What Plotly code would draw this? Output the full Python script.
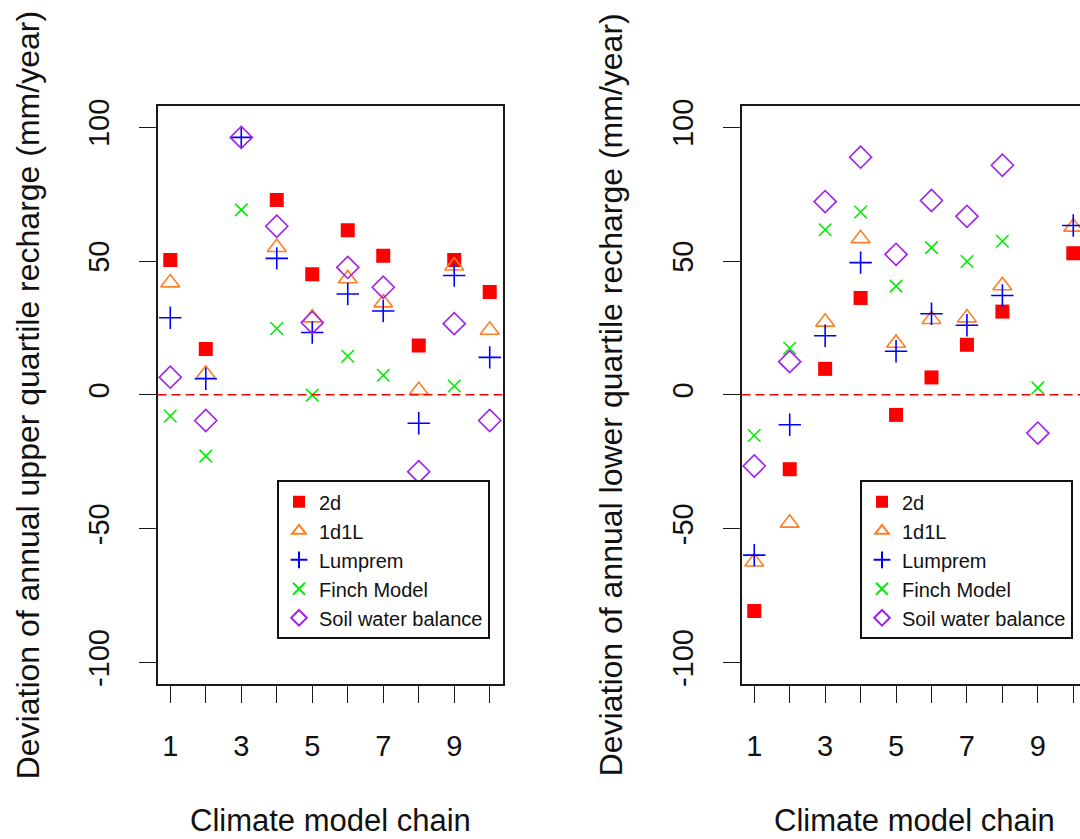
import plotly.graph_objects as go

# ---------------- data ----------------
chains = [1, 2, 3, 4, 5, 6, 7, 8, 9, 10]
x_tick_text = ["1", "", "3", "", "5", "", "7", "", "9", ""]
y_tick_vals = [-100, -50, 0, 50, 100]
y_tick_text = ["-100", "-50", "0", "50", "100"]

models = ["2d", "1d1L", "Lumprem", "Finch Model", "Soil water balance"]

# Upper quartile recharge deviation (left panel)
upper_2d = [50.4, 17.1, None, 72.8, 45.1, 61.5, 52.0, 18.4, 50.4, 38.4]
upper_1d1L = [41.9, 7.8, None, 55.1, 28.8, 43.4, 34.4, 1.7, 48.2, 24.2]
upper_lumprem = [28.8, 6.0, 96.2, 51.0, 23.3, 37.7, 31.3, -10.6, 44.6, 14.0]
upper_finch = [-7.9, -22.9, 69.1, 24.8, -0.1, 14.4, 7.3, None, 3.3, None]
upper_swb = [6.6, -9.6, 96.2, 63.0, 27.0, 47.6, 40.2, -28.7, 26.6, -9.6]

# Lower quartile recharge deviation (right panel)
lower_2d = [-80.8, -27.8, 9.7, 36.2, -7.5, 6.5, 18.7, 31.1, None, 52.9]
lower_1d1L = [-62.4, -47.9, 27.2, 58.4, 19.3, 28.2, 28.8, 40.8, None, 62.7]
lower_lumprem = [-59.9, -11.2, 22.1, 49.4, 16.3, 30.3, 26.0, 37.1, None, 63.3]
lower_finch = [-15.2, 17.4, 61.7, 68.3, 40.6, 55.0, 49.8, 57.4, 2.6, None]
lower_swb = [-26.6, 12.4, 72.2, 88.8, 52.5, 72.6, 66.7, 85.8, -14.3, None]

upper = [upper_2d, upper_1d1L, upper_lumprem, upper_finch, upper_swb]
lower = [lower_2d, lower_1d1L, lower_lumprem, lower_finch, lower_swb]

# ---------------- styles ----------------
colors = ["#FF0000", "#FF7F24", "#0000FF", "#00EE00", "#A020F0"]
symbols = ["square", "triangle-up-open", "cross-thin-open", "x-thin-open", "diamond-open"]
sizes = [14, 16.5, 16, 12.5, 17]
FONT = "Liberation Sans, Arial, sans-serif"

W, H = 1080, 839

fig = go.Figure()

for series_set, xa, ya, leg in [(upper, "x", "y", "legend"), (lower, "x2", "y2", "legend2")]:
    for name, vals, col, sym, sz in zip(models, series_set, colors, symbols, sizes):
        fig.add_trace(
            go.Scatter(
                x=chains,
                y=vals,
                mode="markers",
                name=name,
                xaxis=xa,
                yaxis=ya,
                legend=leg,
                marker=dict(
                    symbol=sym,
                    size=sz,
                    color=col,
                    line=dict(color=col, width=1.6 if sym != "square" else 0),
                ),
                hoverinfo="x+y+name",
            )
        )

# plot area geometry (pixels)
y_top_px, y_bot_px = 100, 685
ydom = [(H - y_bot_px) / H, (H - y_top_px) / H]
left_dom = [157.5 / W, 502.5 / W]
right_dom = [741.5 / W, 1.0]

axis_common = dict(
    showgrid=False,
    zeroline=False,
    showline=True,
    linecolor="#1a1a1a",
    linewidth=1.6,
    ticks="outside",
    ticklen=17,
    tickwidth=1.3,
    tickcolor="#1a1a1a",
    tickfont=dict(family=FONT, size=29, color="#111"),
)

xaxis_common = dict(
    axis_common,
    tickmode="array",
    tickvals=chains,
    ticktext=x_tick_text,
    ticklabelstandoff=19,
)
yaxis_common = dict(
    axis_common,
    range=[-108, 108],
    tickmode="array",
    tickvals=y_tick_vals,
    ticktext=y_tick_text,
    tickangle=-90,
    ticklabelstandoff=18,
)

legend_common = dict(
    y=(H - 479) / H, xanchor="left", yanchor="top",
    bgcolor="white", bordercolor="#111", borderwidth=2,
    font=dict(family=FONT, size=20, color="#111"),
    itemsizing="constant", tracegroupgap=0,
)

fig.update_layout(
    width=W,
    height=H,
    margin=dict(l=0, r=0, t=0, b=0),
    paper_bgcolor="white",
    plot_bgcolor="white",
    xaxis=dict(xaxis_common, domain=left_dom, range=[0.64, 10.36], mirror=True, anchor="y"),
    yaxis=dict(yaxis_common, domain=ydom, mirror=True, anchor="x"),
    xaxis2=dict(xaxis_common, domain=right_dom, range=[0.64, 10.19], mirror=True, anchor="y2"),
    yaxis2=dict(yaxis_common, domain=ydom, mirror=False, anchor="x2"),
    legend=dict(legend_common, x=277 / W),
    legend2=dict(legend_common, x=860 / W),
    showlegend=True,
)

# zero reference lines
for xref, yref in [("x domain", "y"), ("x2 domain", "y2")]:
    fig.add_shape(
        type="line", xref=xref, yref=yref, x0=0, x1=1, y0=0, y1=0,
        line=dict(color="#FF0000", width=1.6, dash="9px,5px"),
    )

# axis titles as annotations
title_font = dict(family=FONT, size=32, color="#111")
fig.add_annotation(
    text="Deviation of annual upper quartile recharge (mm/year)",
    xref="paper", yref="paper", x=28 / W, y=(H - 393) / H,
    textangle=-90, showarrow=False, font=title_font,
    xanchor="center", yanchor="middle",
)
fig.add_annotation(
    text="Deviation of annual lower quartile recharge (mm/year)",
    xref="paper", yref="paper", x=611 / W, y=(H - 393) / H,
    textangle=-90, showarrow=False, font=title_font,
    xanchor="center", yanchor="middle",
)
xt_font = dict(family=FONT, size=31, color="#111")
fig.add_annotation(
    text="Climate model chain", xref="paper", yref="paper",
    x=330 / W, y=(H - 823) / H, showarrow=False, font=xt_font,
    xanchor="center", yanchor="middle",
)
fig.add_annotation(
    text="Climate model chain", xref="paper", yref="paper",
    x=914 / W, y=(H - 823) / H, showarrow=False, font=xt_font,
    xanchor="center", yanchor="middle",
)

fig.write_html("out.html")
